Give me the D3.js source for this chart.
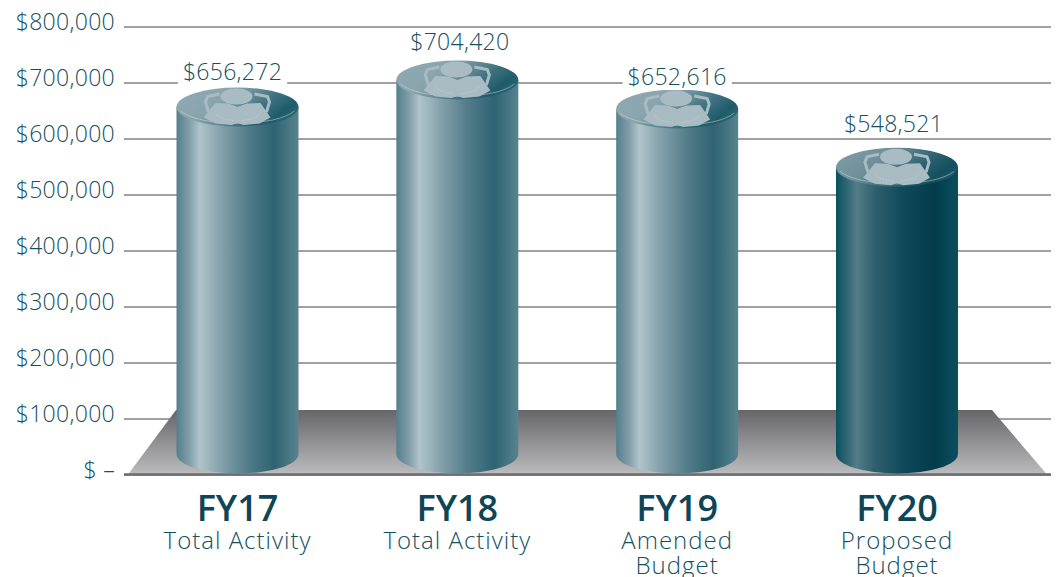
<!DOCTYPE html>
<html>
<head>
<meta charset="utf-8">
<script src="https://cdnjs.cloudflare.com/ajax/libs/d3/7.8.5/d3.min.js"></script>
<style>
  html, body { margin: 0; padding: 0; background: #fff; overflow: hidden; }
  svg { display: block; }
  text { font-family: "Open Sans", Lato, sans-serif; }
</style>
</head>
<body>
<svg id="chart" width="1057" height="577"></svg>
<script>
// Budget totals by fiscal year
const years = ["FY17", "FY18", "FY19", "FY20"];
const subtitles = [["Total Activity"], ["Total Activity"], ["Amended", "Budget"], ["Proposed", "Budget"]];
const totals = [656272, 704420, 652616, 548521];
const axisTicks = [0, 100000, 200000, 300000, 400000, 500000, 600000, 700000, 800000];

const svg = d3.select("#chart");
const TEXT = "#14505f", HEAD = "#0e4557";
const left = 124, right = 1051, rx = 61, ry = 19.5;

const y = d3.scaleLinear().domain([0, 800000]).range([474.5, 26.5]);
const x = d3.scalePoint().domain(years).range([237.5, 897]);
const money = d3.format("$,");
const labelRaise = [0, -3, 3, -8];      // fine vertical placement of each value label
const labelShift = [-5, 2.5, 0, -3.5];  // fine horizontal placement of each value label

// Cylinder shading, one gradient per bar tone
const defs = svg.append("defs");
function linear(id, stops, a) {
  const g = defs.append("linearGradient").attr("id", id)
    .attr("x1", a[0]).attr("y1", a[1]).attr("x2", a[2]).attr("y2", a[3]);
  stops.forEach(s => g.append("stop").attr("offset", s[0]).attr("stop-color", s[1]));
}
linear("side", [[0, "#557f8c"], [0.1, "#7e9ca7"], [0.19, "#b0c4cb"], [0.36, "#85a1ac"], [0.6, "#4f7a87"], [0.8, "#2f6371"], [1, "#588390"]], [0, 0, 1, 0]);
linear("sideDark", [[0, "#0a4f5e"], [0.17, "#527c88"], [0.32, "#2f5f6e"], [0.55, "#0f4a5a"], [0.8, "#033b4b"], [1, "#0a4f5e"]], [0, 0, 1, 0]);
linear("cap", [[0, "#8fa9b2"], [0.35, "#8aa4ad"], [0.7, "#3f7280"], [0.9, "#1f5b6a"], [1, "#2a6473"]], [0, 0.2, 1, 0.6]);
linear("capDark", [[0, "#7f9ca6"], [0.35, "#6d8f9a"], [0.7, "#2c6170"], [0.9, "#134f5f"], [1, "#1c5767"]], [0, 0.2, 1, 0.6]);
linear("floor", [[0, "#66666a"], [1, "#bcbcbe"]], [0, 0, 0, 1]);

// Value axis: labels and full-width rules
const axis = d3.axisLeft(y)
  .tickValues(axisTicks)
  .tickSize(-(right - left))
  .tickPadding(9)
  .tickFormat(d => d === 0 ? "$ \u2013" : money(d));
const axisG = svg.append("g").attr("transform", `translate(${left},0)`).call(axis);
axisG.select(".domain").remove();
axisG.selectAll("line").attr("stroke", "#a0a0a4").attr("stroke-width", 2);
axisG.selectAll("text")
  .attr("fill", TEXT).attr("font-size", 23).attr("font-weight", 300).attr("dy", "0.14em").style("letter-spacing", "0.3px");

// Floor the cylinders stand on
const floorTop = y(115000), floorBase = y(0);
svg.append("path")
  .attr("d", d3.line()([[128, floorBase], [176, floorTop], [992, floorTop], [1047, floorBase]]) + "Z")
  .attr("fill", "url(#floor)");
svg.append("line")
  .attr("x1", left).attr("x2", right).attr("y1", floorBase).attr("y2", floorBase)
  .attr("stroke", "#6c6c72").attr("stroke-width", 2.5);

// Cylinders
const bars = svg.selectAll("g.bar").data(years).join("g").attr("class", "bar")
  .attr("transform", d => `translate(${x(d)},0)`);

bars.append("path")
  .attr("fill", d => d === "FY20" ? "url(#sideDark)" : "url(#side)")
  .attr("d", (d, i) => {
    const top = y(totals[i]), bottom = y(0) - ry - 1;
    return `M${-rx},${top}L${-rx},${bottom}A${rx},${ry} 0 0 0 ${rx},${bottom}L${rx},${top}Z`;
  });

const caps = bars.append("g").attr("transform", (d, i) => `translate(0,${y(totals[i])})`);
caps.append("ellipse")
  .attr("rx", rx).attr("ry", ry)
  .attr("fill", d => d === "FY20" ? "url(#capDark)" : "url(#cap)");
caps.append("path")   // pale rim along the front edge of the cap
  .attr("d", `M${-rx + 4},${4}A${rx},${ry} 0 0 0 ${rx - 4},${4}`)
  .attr("fill", "none").attr("stroke", "#d5e0e4").attr("stroke-width", 0.8).attr("stroke-opacity", 0.6);

// Emblem on each cap: seated figure with arms around the shoulders
const EMBLEM = "#a9bcc4";
caps.append("ellipse").attr("cx", -1).attr("cy", -10.5).attr("rx", 16).attr("ry", 8).attr("fill", EMBLEM);
caps.append("path").attr("fill", EMBLEM)
  .attr("d", "M-22,-4L-9,-3.5L0,0L9,-3.5L23,-4L33,10.5L22,16.5L6,18L0,16L-6,18L-22,16.5L-34,10.5Z");
caps.append("path").attr("fill", "none").attr("stroke", EMBLEM).attr("stroke-width", 3)
  .attr("d", "M-18,-13L-30,-10.5L-32,-5L-29,5M17,-13L30,-10.5L32,-5L29,5");
caps.append("path").attr("fill", "none").attr("stroke", "#dfe8eb").attr("stroke-width", 0.6)
  .attr("stroke-opacity", 0.6).attr("stroke-dasharray", "1.5 1.5")
  .attr("d", "M-22,7L-17,11L-3,14M22,7L17,11L3,14");

// Value labels, knocked out of the rules behind them
const valueLabels = bars.append("g");
valueLabels.append("rect").attr("fill", "#fff");
valueLabels.append("text")
  .attr("text-anchor", "middle").attr("fill", TEXT).attr("font-size", 23).attr("font-weight", 300)
  .style("letter-spacing", "0.3px")
  .attr("x", (d, i) => labelShift[i])
  .attr("y", (d, i) => y(totals[i]) - 27 + labelRaise[i])
  .text((d, i) => money(totals[i]));
valueLabels.each(function () {
  const g = d3.select(this), b = g.select("text").node().getBBox();
  g.select("rect").attr("x", b.x - 5).attr("y", b.y + 4).attr("width", b.width + 10).attr("height", b.height - 6);
});

// Category labels under the floor
const cats = svg.selectAll("g.cat").data(years).join("g").attr("class", "cat")
  .attr("transform", d => `translate(${x(d)},0)`)
  .attr("text-anchor", "middle");
cats.append("text")
  .attr("y", 521).attr("font-size", 36).attr("font-weight", 600).attr("fill", HEAD)
  .text(d => d);
cats.each(function (d, i) {
  d3.select(this).selectAll("text.sub").data(subtitles[i]).join("text").attr("class", "sub")
    .attr("y", (s, k) => 549 + k * 24.5).attr("font-size", 24).attr("font-weight", 300).attr("fill", TEXT)
    .style("letter-spacing", "1px")
    .text(s => s);
});
</script>
</body>
</html>
